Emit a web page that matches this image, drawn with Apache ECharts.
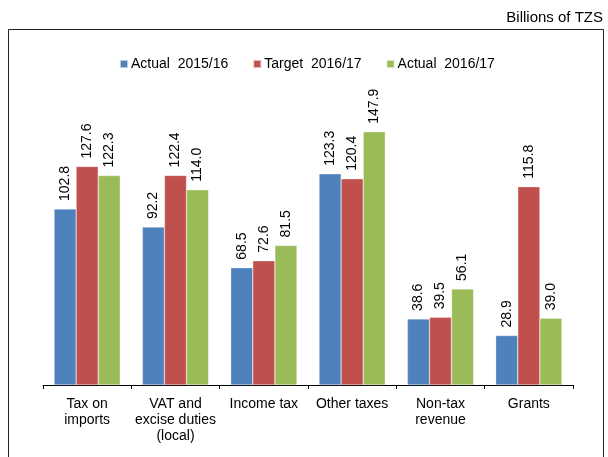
<!DOCTYPE html>
<html>
<head>
<meta charset="utf-8">
<script src="https://cdn.jsdelivr.net/npm/echarts@6/dist/echarts.min.js"></script>
<style>
html,body{margin:0;padding:0;background:#fff;}
#chart{width:608px;height:457px;}
</style>
</head>
<body>
<div id="chart"></div>
<script>
// Revenue categories and values (billions of TZS)
const categories = ['Tax on\nimports', 'VAT and\nexcise duties\n(local)', 'Income tax', 'Other taxes', 'Non-tax\nrevenue', 'Grants'];
const seriesNames = ['Actual  2015/16', 'Target  2016/17', 'Actual  2016/17'];
const actual2015 = [102.8, 92.2, 68.5, 123.3, 38.6, 28.9];
const target2016 = [127.6, 122.4, 72.6, 120.4, 39.5, 115.8];
const actual2016 = [122.3, 114.0, 81.5, 147.9, 56.1, 39.0];
const colors = ['#4F81BD', '#C0504D', '#9BBB59'];

const font = 'Liberation Sans, Arial, sans-serif';

function barSeries(name, data, color) {
  return {
    name: name,
    type: 'bar',
    data: data,
    barGap: '0%',
    barCategoryGap: '25%',
    itemStyle: { color: color, borderColor: 'rgba(255,255,255,0.6)', borderWidth: 0.5 },
    label: {
      show: true,
      position: 'top',
      rotate: 90,
      align: 'left',
      verticalAlign: 'middle',
      distance: 8,
      fontFamily: font,
      fontSize: 14,
      color: '#000',
      formatter: p => p.value.toFixed(1)
    }
  };
}

const chart = echarts.init(document.getElementById('chart'));
chart.setOption({
  animation: false,
  textStyle: { fontFamily: font },
  graphic: [
    {
      type: 'rect',
      shape: { x: 8.5, y: 29.5, width: 595, height: 450 },
      style: { fill: 'none', stroke: '#222', lineWidth: 1 },
      silent: true
    },
    {
      type: 'text',
      right: 5,
      top: 10,
      style: { text: 'Billions of TZS', font: '15px ' + font, fill: '#000' }
    }
  ],
  legend: {
    top: 52,
    left: 114,
    itemWidth: 8,
    itemHeight: 8,
    itemGap: 24,
    icon: 'rect',
    textStyle: { fontSize: 14, color: '#000', fontFamily: font, padding: [0, 0, 0, -2] },
    data: seriesNames
  },
  grid: { left: 43, right: 35, top: 111, bottom: 72, containLabel: false },
  xAxis: {
    type: 'category',
    data: categories,
    axisLine: { lineStyle: { color: '#000', width: 1 } },
    axisTick: { show: true, length: 4, lineStyle: { color: '#000' } },
    axisLabel: { fontSize: 14, color: '#000', fontFamily: font, lineHeight: 16, margin: 11, interval: 0 }
  },
  yAxis: {
    type: 'value',
    min: 0,
    max: 160,
    show: false,
    splitLine: { show: false }
  },
  series: [
    barSeries(seriesNames[0], actual2015, colors[0]),
    barSeries(seriesNames[1], target2016, colors[1]),
    barSeries(seriesNames[2], actual2016, colors[2])
  ]
});
</script>
</body>
</html>
